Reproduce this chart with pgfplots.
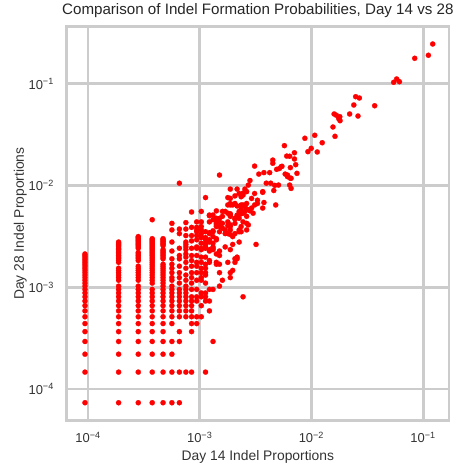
\documentclass[border=0pt]{standalone}
\usepackage{fontspec}
\setmainfont{Liberation Sans}
\usepackage{pgfplots}
\usepackage{pgfplotstable}
\pgfplotsset{compat=1.18}
\definecolor{gridgray}{HTML}{CCCCCC}

% read counts: day 14 (d14) and day 28 (d28); totals 10641 and 13637 reads
\pgfplotstableread[row sep=\\]{
d14 d28\\
1 1\\1 2\\1 3\\1 4\\1 5\\1 6\\1 7\\1 8\\1 9\\1 10\\1 11\\1 12\\1 13\\1 14\\1 15\\1 16\\1 17\\1 18\\1 19\\1 20\\1 21\\1 22\\1 23\\1 24\\1 25\\1 26\\1 27\\1 28\\1 29\\
2 1\\2 2\\2 3\\2 4\\2 5\\2 6\\2 7\\2 8\\2 9\\2 10\\2 11\\2 12\\2 13\\2 14\\2 16\\2 17\\2 18\\2 19\\2 20\\2 21\\2 24\\2 25\\2 26\\2 27\\2 28\\2 29\\2 30\\2 31\\2 32\\2 33\\2 34\\2 35\\2 36\\2 37\\2 38\\
3 1\\3 2\\3 3\\3 4\\3 5\\3 6\\3 7\\3 8\\3 9\\3 10\\3 11\\3 12\\3 13\\3 14\\3 16\\3 17\\3 18\\3 19\\3 20\\3 21\\3 22\\3 25\\3 26\\3 27\\3 28\\3 29\\3 30\\3 33\\3 34\\3 35\\3 36\\3 37\\3 38\\3 39\\3 40\\3 41\\3 42\\3 43\\
4 1\\4 2\\4 3\\4 4\\4 5\\4 6\\4 7\\4 8\\4 9\\4 10\\4 11\\4 12\\4 13\\4 15\\4 16\\4 17\\4 18\\4 19\\4 20\\4 21\\4 22\\4 23\\4 24\\4 25\\4 26\\4 27\\4 28\\4 29\\4 30\\4 31\\4 32\\4 33\\4 34\\4 35\\4 36\\4 37\\4 38\\4 39\\4 40\\4 41\\4 63\\
5 1\\5 2\\5 3\\5 4\\5 5\\5 6\\5 7\\5 8\\5 9\\5 10\\5 11\\5 12\\5 13\\5 14\\5 15\\5 16\\5 17\\5 18\\5 19\\5 20\\5 21\\5 22\\5 23\\5 26\\5 27\\5 28\\5 29\\5 30\\5 31\\5 32\\5 35\\5 36\\5 37\\5 38\\5 39\\5 40\\5 41\\
6 1\\6 2\\6 3\\6 4\\6 6\\6 7\\6 8\\6 9\\6 10\\6 11\\6 12\\6 13\\6 14\\6 16\\6 17\\6 19\\6 21\\6 23\\6 26\\6 31\\6 38\\6 50\\6 58\\
7 1\\7 2\\7 4\\7 5\\7 7\\7 8\\7 9\\7 10\\7 11\\7 12\\7 13\\7 15\\7 17\\7 19\\7 22\\7 26\\7 28\\7 33\\7 46\\7 51\\7 144\\
8 2\\8 7\\8 8\\8 9\\8 10\\8 11\\8 12\\8 13\\8 14\\8 16\\8 18\\8 21\\8 24\\8 27\\8 29\\8 32\\8 34\\8 36\\8 38\\8 44\\8 51\\8 59\\
9 2\\9 5\\9 6\\9 7\\9 8\\9 9\\9 10\\9 11\\9 13\\9 15\\9 17\\9 19\\9 22\\9 25\\9 28\\9 33\\9 39\\9 44\\9 53\\9 75\\
10 6\\10 7\\10 10\\10 11\\10 13\\10 16\\10 19\\10 22\\10 24\\10 28\\10 33\\10 34\\10 40\\10 44\\10 48\\10 50\\10 53\\10 60\\
11 7\\11 9\\11 11\\11 12\\11 16\\11 17\\11 19\\11 21\\11 24\\11 27\\11 32\\11 33\\11 37\\11 42\\11 43\\11 46\\11 50\\11 54\\11 60\\11 76\\
12 2\\12 10\\12 11\\12 12\\12 15\\12 18\\12 19\\12 21\\12 23\\12 27\\12 33\\12 34\\12 36\\12 37\\12 40\\12 42\\12 48\\12 104\\
13 8\\13 10\\13 13\\13 24\\13 25\\13 31\\13 32\\13 38\\13 40\\13 46\\13 47\\13 60\\13 69\\13 70\\
14 4\\14 13\\14 32\\14 33\\14 34\\14 37\\14 43\\14 48\\14 49\\14 63\\14 70\\
15 23\\15 24\\15 29\\15 40\\15 41\\15 54\\15 56\\15 58\\15 62\\15 65\\15 77\\
16 14\\16 19\\16 23\\16 28\\16 31\\16 48\\16 54\\16 60\\16 65\\16 173\\
17 16\\17 52\\17 58\\17 68\\17 76\\18 34\\18 46\\18 50\\18 76\\19 24\\19 46\\19 55\\19 60\\19 73\\19 88\\19 104\\
20 17\\20 19\\20 32\\20 45\\20 50\\20 54\\20 56\\20 68\\20 70\\20 72\\20 88\\20 91\\20 102\\20 126\\
21 20\\21 36\\21 43\\21 88\\22 24\\22 26\\22 46\\22 58\\22 64\\22 65\\22 91\\22 108\\23 26\\23 27\\23 70\\23 86\\23 126\\
24 38\\24 48\\24 50\\24 65\\24 76\\24 114\\25 48\\25 54\\25 72\\25 80\\25 88\\25 106\\26 11\\26 60\\26 73\\26 88\\26 110\\26 115\\
27 76\\27 85\\27 86\\27 126\\28 50\\28 58\\28 68\\28 79\\28 91\\28 119\\29 56\\29 79\\29 138\\30 77\\30 153\\
31 82\\31 102\\32 73\\33 88\\33 114\\33 212\\34 36\\35 91\\35 98\\36 177\\39 119\\40 93\\
39 82\\39 117\\40 183\\42 144\\45 183\\46 144\\48 226\\48 243\\49 122\\50 137\\
51 88\\52 197\\54 138\\55 201\\57 209\\64 266\\65 173\\69 161\\68 138\\70 128\\
58 211\\61 337\\62 177\\65 167\\68 265\\69 205\\70 161\\75 249\\75 287\\77 219\\79 180\\
93 398\\99 294\\106 317\\114 426\\120 292\\133 360\\166 514\\173 416\\
170 690\\178 670\\187 620\\191 649\\192 593\\234 690\\255 846\\265 1021\\278 659\\286 991\\
392 832\\580 1414\\617 1524\\653 1433\\895 2434\\1186 2606\\1297 3365\\
}\counts

\begin{document}
\begin{tikzpicture}
\begin{axis}[
  scale only axis, width=382.3bp, height=394.2bp,
  xmode=log, ymode=log,
  xmin=6.446e-5, xmax=0.1705, ymin=4.88e-5, ymax=0.3667,
  xtick={1e-4,1e-3,1e-2,1e-1}, ytick={1e-4,1e-3,1e-2,1e-1},
  xticklabels={10\textsuperscript{−4},10\textsuperscript{−3},10\textsuperscript{−2},10\textsuperscript{−1}},
  yticklabels={10\textsuperscript{−4},10\textsuperscript{−3},10\textsuperscript{−2},10\textsuperscript{−1}},
  xminorticks=false, yminorticks=false,
  major tick length=0,
  grid=major, major grid style={draw=gridgray, line width=2.8bp},
  axis line style={draw=gridgray, line width=2.6bp},
  tick label style={font=\fontsize{13}{15}\selectfont, text=black!80},
  xticklabel style={inner sep=0pt, yshift=-11.3bp},
  yticklabel style={inner sep=0pt, xshift=-12.7bp},
  label style={font=\fontsize{13.9}{16}\selectfont, text=black!80},
  title style={font=\fontsize{15.2}{18}\selectfont, text=black!85, at={(axis description cs:0.5,1.0165)}, anchor=base},
  title={Comparison of Indel Formation Probabilities, Day 14 vs 28},
  xlabel={Day 14 Indel Proportions},
  ylabel={Day 28 Indel Proportions},
  xlabel style={at={(axis description cs:0.5,-0.1015)}, anchor=base},
  ylabel style={at={(axis description cs:-0.1117,0.5)}, anchor=base},
]
\addplot[only marks, mark=*, red, mark size=2.6bp, mark options={solid, draw=red, fill=red, line width=0.2bp}]
  table[x expr=\thisrow{d14}/10641, y expr=\thisrow{d28}/13637] {\counts};
\coordinate (sw) at (rel axis cs:0,0);
\end{axis}
\pgfresetboundingbox
\path (sw) ++(-66.7bp,-46.3bp) rectangle ++(461bp,467bp);
\end{tikzpicture}
\end{document}
